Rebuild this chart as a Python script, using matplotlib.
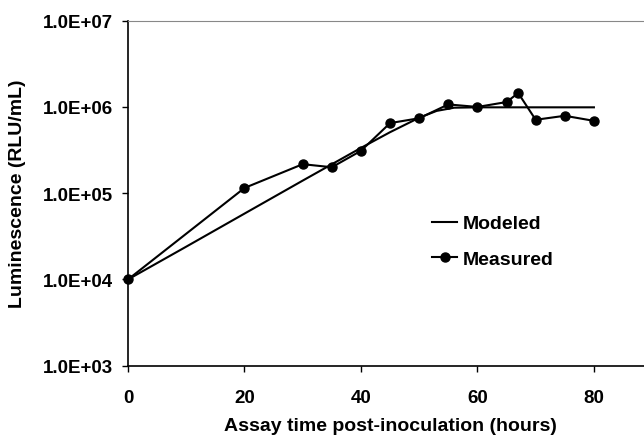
import numpy as np
import matplotlib
matplotlib.use("Agg")
import matplotlib.pyplot as plt
from matplotlib.ticker import FuncFormatter, FixedLocator

# datos
t_meas = [0, 20, 30, 35, 40, 45, 50, 55, 60, 65, 67, 70, 75, 80]
lum_meas = [1.0e4, 1.15e5, 2.17e5, 2.0e5, 3.1e5, 6.5e5, 7.4e5, 1.07e6,
            1.0e6, 1.14e6, 1.45e6, 7.1e5, 7.9e5, 6.9e5]

t_mod = [0, 10, 20, 30, 40, 45, 50, 53, 56, 60, 70, 80]
lum_mod = [1.0e4, 2.4e4, 5.8e4, 1.4e5, 3.35e5, 5.1e5, 7.5e5, 9.0e5,
           9.8e5, 9.9e5, 9.9e5, 9.9e5]

y_ticks = [1e3, 1e4, 1e5, 1e6, 1e7]
x_ticks = [0, 20, 40, 60, 80]

plt.rcParams['font.family'] = ['Liberation Sans', 'DejaVu Sans']
plt.rcParams['font.weight'] = 'bold'

fig = plt.figure(figsize=(6.44, 4.39), dpi=100)
ax = fig.add_axes([128 / 644, 1 - 366.7 / 439, 516 / 644, 345 / 439])

ax.plot(t_mod, lum_mod, color='black', lw=1.5, label='Modeled')
ax.plot(t_meas, lum_meas, color='black', lw=1.5, marker='o', markersize=6.5,
        label='Measured', clip_on=False, zorder=3)

ax.set_yscale('log')
ax.set_ylim(1e3, 1e7)
ax.set_xlim(0, 88.6)
ax.yaxis.set_major_locator(FixedLocator(y_ticks))
ax.yaxis.set_minor_locator(FixedLocator([]))
ax.yaxis.set_major_formatter(FuncFormatter(lambda v, p: f"{v:.1E}"))
ax.set_xticks(x_ticks)

ax.tick_params(axis='both', direction='out', length=4, width=1, labelsize=13.5)
ax.tick_params(axis='x', pad=13)
ax.tick_params(axis='y', pad=7)

ax.spines['right'].set_visible(False)
ax.spines['top'].set_color('#888888')
ax.spines['left'].set_linewidth(1.2)
ax.spines['bottom'].set_linewidth(1.2)

ax.set_xlabel("Assay time post-inoculation (hours)", fontsize=14, fontweight='bold')
ax.set_ylabel("Luminescence (RLU/mL)", fontsize=14, fontweight='bold')
ax.xaxis.set_label_coords(0.508, -0.150)
ax.yaxis.set_label_coords(-0.198, 0.5)

ax.legend(loc='center left', bbox_to_anchor=(0.589, 0.361), frameon=False,
          fontsize=14, handlelength=1.3, handletextpad=0.26, labelspacing=0.9,
          borderpad=0, borderaxespad=0)

fig.savefig("out.png", dpi=100)
